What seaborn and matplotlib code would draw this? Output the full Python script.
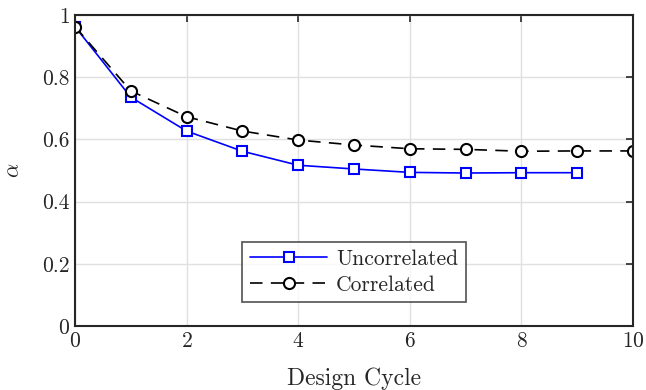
import matplotlib
matplotlib.use("Agg")
import matplotlib.pyplot as plt
import seaborn as sns
import pandas as pd

cycles_unc = [0, 1, 2, 3, 4, 5, 6, 7, 8, 9]
alpha_unc = [0.963, 0.736, 0.627, 0.562, 0.517, 0.505, 0.494, 0.492, 0.493, 0.493]
cycles_cor = [0, 1, 2, 3, 4, 5, 6, 7, 8, 9, 10]
alpha_cor = [0.963, 0.756, 0.673, 0.627, 0.598, 0.582, 0.570, 0.568, 0.562, 0.563, 0.563]

sns.set_style("whitegrid", {"grid.color": "#e0e0e0", "axes.edgecolor": "#262626"})
plt.rcParams["font.family"] = ["cmr10", "DejaVu Serif"]
plt.rcParams["mathtext.fontset"] = "cm"
plt.rcParams["axes.formatter.use_mathtext"] = True

fig = plt.figure(figsize=(6.46, 3.9), dpi=100)
ax = fig.add_axes([0.116, 0.164, 0.864, 0.7975])

sns.lineplot(x=cycles_unc, y=alpha_unc, ax=ax, color="blue", lw=1.2,
             marker="s", markersize=7, markerfacecolor="white",
             markeredgecolor="blue", markeredgewidth=1.5, label="Uncorrelated")
sns.lineplot(x=cycles_cor, y=alpha_cor, ax=ax, color="black", lw=1.2,
             linestyle=(0, (7.5, 5)), marker="o", markersize=8,
             markerfacecolor="white", markeredgecolor="black",
             markeredgewidth=1.5, label="Correlated")

ax.set_xlim(0, 10)
ax.set_ylim(0, 1)
ax.set_xticks([0, 2, 4, 6, 8, 10])
ax.set_yticks([0, 0.2, 0.4, 0.6, 0.8, 1])
ax.set_yticklabels(["0", "0.2", "0.4", "0.6", "0.8", "1"])
ax.set_xlabel("Design Cycle", fontsize=17, labelpad=12)
ax.set_ylabel(r"$\alpha$", fontsize=16, labelpad=13)
ax.tick_params(direction="in", length=5, width=1.2, labelsize=15.5,
               top=True, right=True, colors="#262626", pad=4)
for s in ax.spines.values():
    s.set_linewidth(1.5)
    s.set_visible(True)
ax.grid(True, lw=1)

leg = ax.legend(loc="center", bbox_to_anchor=(0.5, 0.174), fontsize=15.5,
                frameon=True, fancybox=False, handlelength=3.6,
                borderpad=0.35, labelspacing=0.3, handletextpad=0.4)
leg.get_frame().set_edgecolor("#262626")
leg.get_frame().set_linewidth(1.2)

fig.savefig("out.png", dpi=100)
